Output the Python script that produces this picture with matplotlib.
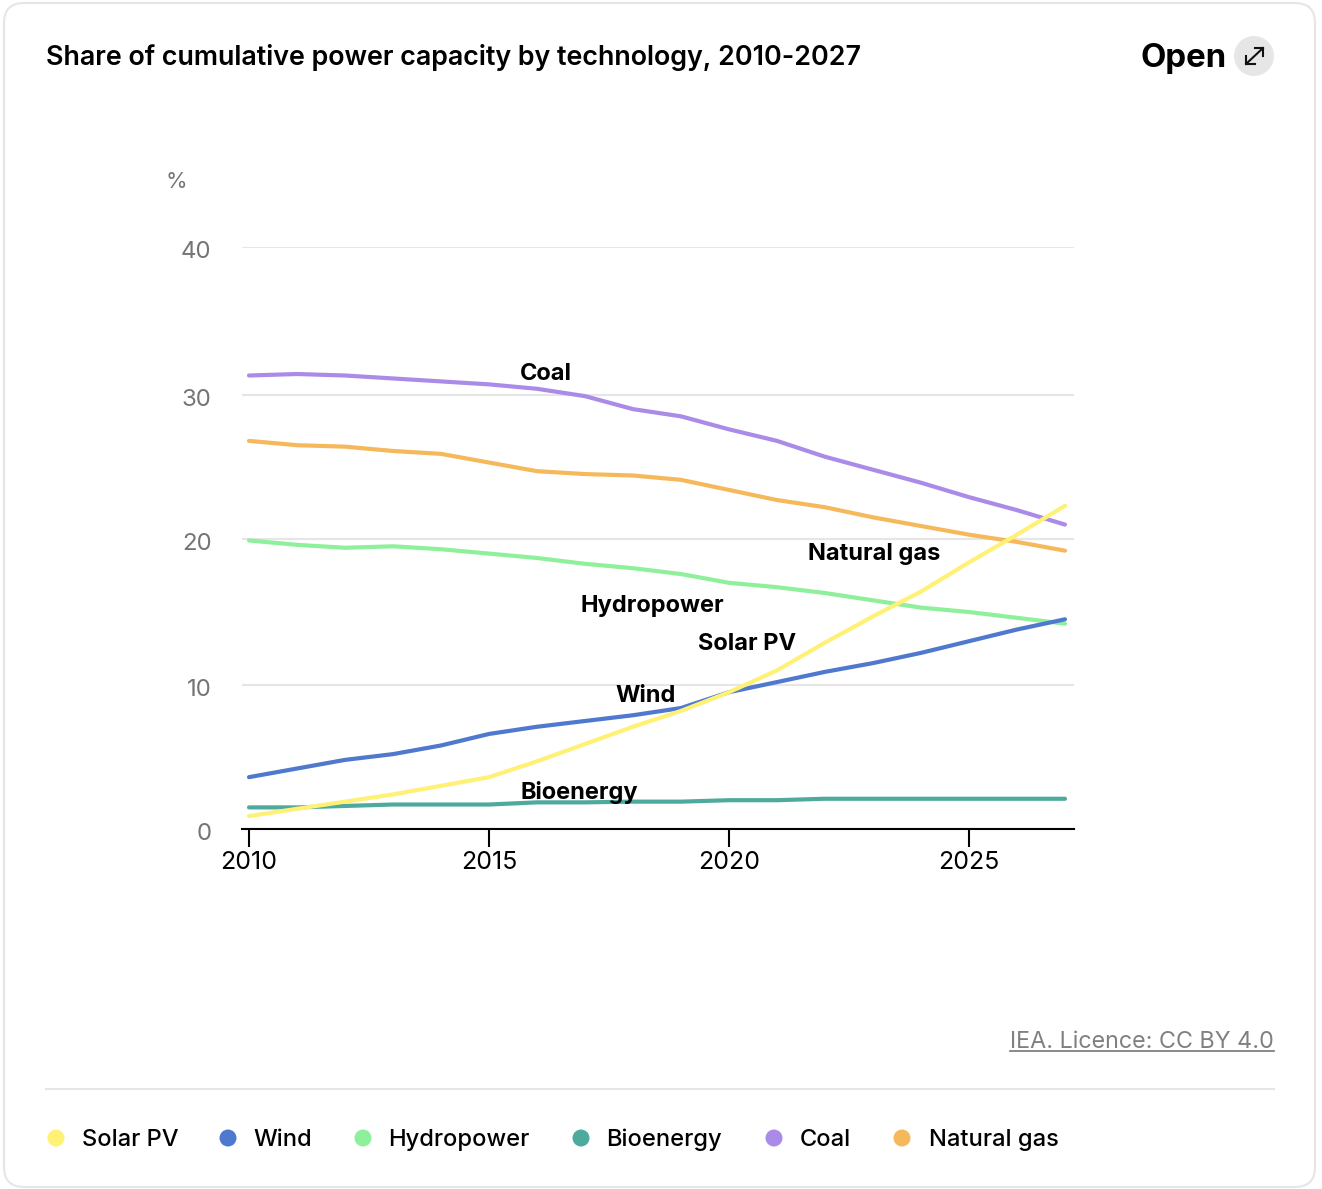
import numpy as np
import matplotlib
matplotlib.use('Agg')
import matplotlib.pyplot as plt
from matplotlib.patches import FancyBboxPatch, Circle
from matplotlib.transforms import ScaledTranslation

plt.rcParams['font.family'] = ['Inter', 'DejaVu Sans']

# Data
years = list(range(2010, 2028))
solar = [0.9, 1.4, 1.9, 2.4, 3.0, 3.6, 4.7, 5.9, 7.1, 8.2, 9.5, 11.0, 12.9, 14.7, 16.4, 18.4, 20.3, 22.3]
wind = [3.6, 4.2, 4.8, 5.2, 5.8, 6.6, 7.1, 7.5, 7.9, 8.4, 9.5, 10.2, 10.9, 11.5, 12.2, 13.0, 13.8, 14.5]
hydro = [19.9, 19.6, 19.4, 19.5, 19.3, 19.0, 18.7, 18.3, 18.0, 17.6, 17.0, 16.7, 16.3, 15.8, 15.3, 15.0, 14.6, 14.2]
bio = [1.5, 1.5, 1.6, 1.7, 1.7, 1.7, 1.85, 1.85, 1.9, 1.9, 2.0, 2.0, 2.1, 2.1, 2.1, 2.1, 2.1, 2.1]
coal = [31.3, 31.4, 31.3, 31.1, 30.9, 30.7, 30.4, 29.9, 29.0, 28.5, 27.6, 26.8, 25.7, 24.8, 23.9, 22.9, 22.0, 21.0]
gas = [26.8, 26.5, 26.4, 26.1, 25.9, 25.3, 24.7, 24.5, 24.4, 24.1, 23.4, 22.7, 22.2, 21.5, 20.9, 20.3, 19.8, 19.2]

names = ['Solar PV', 'Wind', 'Hydropower', 'Bioenergy', 'Coal', 'Natural gas']
colors = ['#fff176', '#4f78cf', '#8ef09b', '#4faa9e', '#ab8be8', '#f5b95c']
y_ticks = [0, 10, 20, 30, 40]
x_ticks = [2010, 2015, 2020, 2025]

W, H = 1322, 1189
PX = 0.72  # font px to pt at dpi 100

fig = plt.figure(figsize=(W / 100, H / 100), dpi=100)

# page furniture, drawn in pixel coordinates
bg = fig.add_axes([0, 0, 1, 1])
bg.set_xlim(0, W)
bg.set_ylim(H, 0)
bg.axis('off')
bg.add_patch(FancyBboxPatch((4, 3), 1311, 1184, boxstyle='round,pad=0,rounding_size=20',
                            fc='white', ec='#e6e6e6', lw=1.5))
bg.text(46, 57.5, 'Share of cumulative power capacity by technology, 2010-2027',
        fontsize=26.87 * PX, fontweight='semibold', color='black', va='center', ha='left')
bg.text(1227, 58, 'Open', fontsize=33 * PX, fontweight='bold', color='black', va='center', ha='right')
bg.add_patch(Circle((1254, 56), 20, fc='#e6e6e6', ec='none'))
# expand icon
bg.plot([1246, 1263], [64, 48], color='#111111', lw=1.5)
bg.plot([1255, 1263, 1263], [48, 48, 56], color='#111111', lw=1.5)
bg.plot([1246, 1246, 1255], [56, 64, 64], color='#111111', lw=1.5)
bg.text(1274, 1042, 'IEA. Licence: CC BY 4.0', fontsize=23.3 * PX, color='#808080', va='center', ha='right')
bg.plot([1010, 1274], [1051, 1051], color='#757575', lw=1.2)
bg.plot([46, 1274], [1089, 1089], color='#e6e6e6', lw=1.5)
bg.text(176, 182, '%', fontsize=22 * PX, color='#757575', va='center', ha='center')

legend_dots = [56, 228, 363, 581, 774, 902]
legend_text = [82, 253, 388, 606, 800, 929]
for name, color, dx, tx in zip(names, colors, legend_dots, legend_text):
    bg.add_patch(Circle((dx, 1138), 8.5, fc=color, ec='none'))
    bg.text(tx, 1140, name, fontsize=23.7 * PX, fontweight='medium', color='black', va='center', ha='left')

# chart area: gridlines span x 242-1074, y 247-829
ax = fig.add_axes([242 / W, 1 - 829 / H, (1074 - 242) / W, (829 - 247) / H])
ax.patch.set_alpha(0)

# the gridlines in the picture are not quite evenly spaced, so map value to pixel height
grid_px = [0, 144, 290, 434.3, 582]
ax.set_yscale('function', functions=(lambda v: np.interp(v, y_ticks, grid_px),
                                     lambda p: np.interp(p, grid_px, y_ticks)))
ax.set_xlim(2010 - 7 / 48, 2027 + 9 / 48)
ax.set_ylim(0, 40)

for s in ['top', 'right', 'left']:
    ax.spines[s].set_visible(False)
ax.spines['bottom'].set_linewidth(1.5)
ax.spines['bottom'].set_color('black')

ax.set_yticks(y_ticks, [str(t) for t in y_ticks])
ax.set_xticks(x_ticks, [str(t) for t in x_ticks])
ax.minorticks_off()
ax.grid(axis='y', color='#e6e6e6', lw=1.5)
ax.set_axisbelow(True)
ax.tick_params(axis='y', length=0, pad=22, labelsize=24 * PX, labelcolor='#757575')
ax.tick_params(axis='x', length=13, width=1.5, color='black', pad=3, labelsize=25 * PX, labelcolor='black')
for lab in ax.get_yticklabels():
    lab.set_verticalalignment('center')
    lab.set_transform(lab.get_transform() + ScaledTranslation(0, -5.5 / 100, fig.dpi_scale_trans))

series = [(coal, colors[4]), (gas, colors[5]), (hydro, colors[2]), (bio, colors[3]), (wind, colors[1]), (solar, colors[0])]
for vals, color in series:
    ax.plot(years, vals, color=color, lw=3, solid_capstyle='round', solid_joinstyle='round', clip_on=False)

# direct labels, placed in pixel coordinates
labels = ['Coal', 'Natural gas', 'Hydropower', 'Solar PV', 'Wind', 'Bioenergy']
label_x = [520, 808, 580, 698, 615, 520]
label_y = [374, 554, 606, 644, 696, 792]
for text, x, y in zip(labels, label_x, label_y):
    ax.text(x, y, text, transform=bg.transData, fontsize=23.6 * PX, fontweight='bold',
            color='black', va='center', ha='left')

fig.savefig('out.png', dpi=100)
